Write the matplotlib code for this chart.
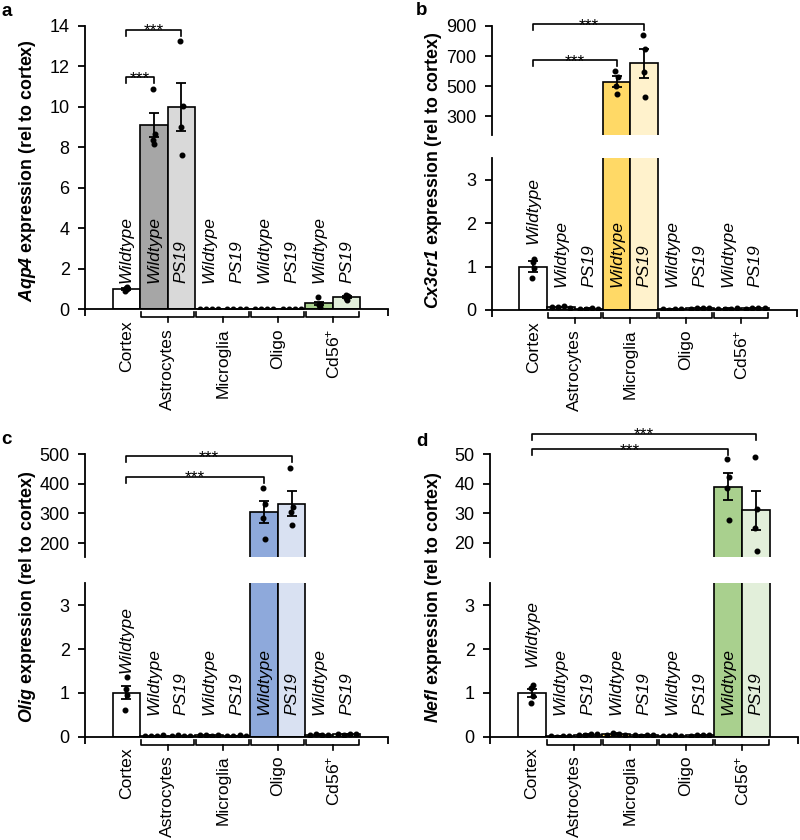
import numpy as np
import matplotlib
matplotlib.use("Agg")
import matplotlib.pyplot as plt
from matplotlib.transforms import blended_transform_factory

plt.rcParams['font.family'] = ['Liberation Sans', 'DejaVu Sans']
plt.rcParams['font.size'] = 12.6
plt.rcParams['ytick.labelsize'] = 13
plt.rcParams['mathtext.fontset'] = 'custom'
plt.rcParams['mathtext.rm'] = 'Liberation Sans'
plt.rcParams['mathtext.it'] = 'Liberation Sans:italic'
plt.rcParams['mathtext.bf'] = 'Liberation Sans:bold'
plt.rcParams['mathtext.bfit'] = 'Liberation Sans:italic:bold'

# === Data ===
groups = ["Cortex", "Astrocytes", "Microglia", "Oligo", "Cd56$^{+}$"]
bar_labels = ["Wildtype", "Wildtype", "PS19", "Wildtype", "PS19",
              "Wildtype", "PS19", "Wildtype", "PS19"]
bar_colors = ["white", "#A6A6A6", "#D9D9D9", "#FFD966", "#FFF2CC",
              "#8EA9DB", "#D9E1F2", "#A9D08E", "#E2EFDA"]

aqp4_mean = [1.0, 9.1, 10.0, 0.01, 0.01, 0.005, 0.005, 0.28, 0.58]
aqp4_sem = [0.06, 0.6, 1.18, 0.0, 0.0, 0.0, 0.0, 0.09, 0.06]
aqp4_points = [[0.9, 0.97, 1.05, 1.1], [10.87, 8.66, 8.36, 8.15], [13.26, 10.04, 8.99, 7.62],
               [0.01, 0.0, 0.01, 0.0], [0.0, 0.01, 0.0, 0.01], [0.0, 0.01, 0.0, 0.0],
               [0.0, 0.0, 0.01, 0.0], [0.61, 0.25, 0.18, 0.1], [0.7, 0.66, 0.52, 0.44]]

cx3cr1_mean = [1.0, 0.07, 0.03, 529, 651, 0.02, 0.04, 0.03, 0.04]
cx3cr1_sem = [0.12, 0.01, 0.01, 38, 95, 0.005, 0.01, 0.005, 0.01]
cx3cr1_points = [[0.74, 0.97, 1.1, 1.18], [0.06, 0.08, 0.09, 0.05], [0.02, 0.03, 0.04, 0.03],
                 [600, 558, 500, 451], [842, 749, 593, 427], [0.02, 0.01, 0.02, 0.03],
                 [0.03, 0.05, 0.04, 0.04], [0.03, 0.02, 0.03, 0.04], [0.03, 0.05, 0.04, 0.04]]

olig_mean = [1.0, 0.02, 0.02, 0.03, 0.02, 306, 333, 0.05, 0.06]
olig_sem = [0.15, 0.005, 0.005, 0.01, 0.005, 37, 42, 0.01, 0.01]
olig_points = [[0.6, 0.95, 1.08, 1.37], [0.02, 0.01, 0.02, 0.03], [0.02, 0.03, 0.02, 0.01],
               [0.03, 0.04, 0.02, 0.03], [0.02, 0.01, 0.03, 0.02], [387, 332, 284, 213],
               [453, 323, 304, 262], [0.05, 0.06, 0.04, 0.05], [0.06, 0.05, 0.07, 0.06]]

nefl_mean = [1.0, 0.01, 0.05, 0.06, 0.03, 0.02, 0.03, 39.0, 31.0]
nefl_sem = [0.09, 0.005, 0.01, 0.02, 0.01, 0.005, 0.01, 4.5, 6.6]
nefl_points = [[0.76, 0.92, 1.12, 1.18], [0.01, 0.0, 0.01, 0.02], [0.04, 0.05, 0.06, 0.07],
               [0.05, 0.09, 0.06, 0.04], [0.03, 0.02, 0.03, 0.04], [0.02, 0.01, 0.03, 0.02],
               [0.02, 0.04, 0.03, 0.04], [48.3, 42.4, 38.5, 27.7], [49.0, 31.3, 24.9, 17.3]]

# significance: (target bar, bracket height)
aqp4_sig = [(1, 11.46), (2, 13.8)]
cx3cr1_sig = [(3, 673), (4, 911)]
olig_sig = [(5, 424.5), (6, 494)]
nefl_sig = [(7, 51.7), (8, 57)]

W, H = 800, 840
fig = plt.figure(figsize=(8, 8.4), dpi=100)
LW = 1.3
XLIM = (-1.5, 9.5)


def px_axes(left, top, right, bottom):
    return fig.add_axes([left / W, 1 - bottom / H, (right - left) / W, (bottom - top) / H])


def style_y(ax):
    for s in ['top', 'right']:
        ax.spines[s].set_visible(False)
    ax.spines['left'].set_linewidth(LW)
    ax.spines['bottom'].set_linewidth(LW)
    ax.tick_params(axis='y', direction='out', length=5, width=LW, pad=6)
    ax.set_xlim(*XLIM)


def draw_bars(ax, mean, sem, points):
    x = np.arange(len(mean))
    ax.bar(x, mean, width=1.0, color=bar_colors, edgecolor='black', linewidth=1.2, zorder=2)
    ax.errorbar(x, mean, yerr=sem, fmt='none', ecolor='black', elinewidth=LW,
                capsize=3.5, capthick=LW, zorder=4)
    lo, hi = ax.get_ylim()
    for i, pts in enumerate(points):
        pts = np.asarray(pts, dtype=float)
        if pts.max() < 0.04 * (hi - lo):
            # near-zero values: spread the dots along the bar
            offs = np.array([-0.33, -0.11, 0.11, 0.33])
        else:
            offs = np.array([-0.04, 0.04, -0.02, 0.02])
        ax.plot(i + offs, pts, 'o', color='black', ms=3.3, zorder=5)


def bottom_axis(ax):
    ax.spines['bottom'].set_visible(True)
    ax.set_xticks([XLIM[0], XLIM[1]])
    ax.set_xticklabels([])
    ax.tick_params(axis='x', direction='out', length=5, width=LW)
    h = ax.bbox.height
    tr = blended_transform_factory(ax.transData, ax.transAxes)
    for k, g in enumerate(groups):
        if k == 0:
            ax.text(0, -11 / h, g, rotation=90, ha='center', va='top', transform=tr)
            continue
        a, b = 2 * k - 1 - 0.48, 2 * k + 0.45
        m = 2 * k - 0.5
        ax.plot([a, a, b, b], [-3 / h, -8 / h, -8 / h, -3 / h], color='black',
                lw=1.2, transform=tr, clip_on=False)
        ax.plot([m, m], [-8 / h, -13 / h], color='black', lw=1.2, transform=tr, clip_on=False)
        ax.text(m, -19 / h, g, rotation=90, ha='center', va='top', transform=tr)


def bar_text(ax, y_cortex, y_other):
    for i, lab in enumerate(bar_labels):
        ax.text(i, y_cortex if i == 0 else y_other, lab, rotation=90, ha='center',
                va='bottom', style='italic', zorder=6)


def add_sig(ax, sig):
    lo, hi = ax.get_ylim()
    drop = 6 / ax.bbox.height * (hi - lo)
    for tgt, y in sig:
        ax.plot([0, 0, tgt, tgt], [y - drop, y, y, y - drop], color='black', lw=1.2,
                clip_on=False, zorder=6)
        ax.annotate('***', xy=(tgt / 2, y), xytext=(0, -4), textcoords='offset points',
                    ha='center', va='baseline', fontsize=12.5, annotation_clip=False)


def ylabel(x, y, gene):
    fig.text(x / W, 1 - y / H, r"$\mathbfit{%s}$ expression (rel to cortex)" % gene,
             rotation=90, ha='center', va='center', fontweight='bold', fontsize=12.8)


# === Panel a ===
ax = px_axes(85, 26, 388, 309)
style_y(ax)
ax.set_ylim(0, 14)
ax.set_yticks(np.arange(0, 15, 2))
draw_bars(ax, aqp4_mean, aqp4_sem, aqp4_points)
bottom_axis(ax)
bar_text(ax, 1.28, 1.28)
add_sig(ax, aqp4_sig)
ylabel(28, 171, "Aqp4")


# === Broken panels b, c, d ===
def broken(left, right, top_u, bot_u, top_l, bot_l, ylim_u, yticks_u, mean, sem, pts, sig,
           lab_y, ylab_xy, gene):
    au = px_axes(left, top_u, right, bot_u)
    style_y(au)
    au.spines['bottom'].set_visible(False)
    au.set_xticks([])
    au.set_ylim(*ylim_u)
    au.set_yticks(yticks_u)
    draw_bars(au, mean, sem, pts)
    add_sig(au, sig)

    al = px_axes(left, top_l, right, bot_l)
    style_y(al)
    al.set_ylim(0, 3.5)
    al.set_yticks([0, 1, 2, 3])
    draw_bars(al, mean, sem, pts)
    bottom_axis(al)
    bar_text(al, *lab_y)
    ylabel(ylab_xy[0], ylab_xy[1], gene)


broken(491.7, 797, 26, 135, 158, 310, (175, 900), [300, 500, 700, 900],
       cx3cr1_mean, cx3cr1_sem, cx3cr1_points, cx3cr1_sig, (1.53, 0.54), (433, 170), "Cx3cr1")
broken(85, 388, 454.3, 557.3, 583.3, 736.7, (152, 500), [200, 300, 400, 500],
       olig_mean, olig_sem, olig_points, olig_sig, (1.45, 0.49), (28, 597), "Olig")
broken(490, 798, 454.3, 557.3, 583.3, 736.7, (15, 50), [20, 30, 40, 50],
       nefl_mean, nefl_sem, nefl_points, nefl_sig, (1.6, 0.5), (433, 597), "Nefl")

# panel letters
for letter, x, y in [('a', 1, 16), ('b', 416, 15), ('c', 1, 444), ('d', 416, 446)]:
    fig.text(x / W, 1 - y / H, letter, fontweight='bold', fontsize=13.5, va='baseline')

fig.savefig("out.png", dpi=100)
